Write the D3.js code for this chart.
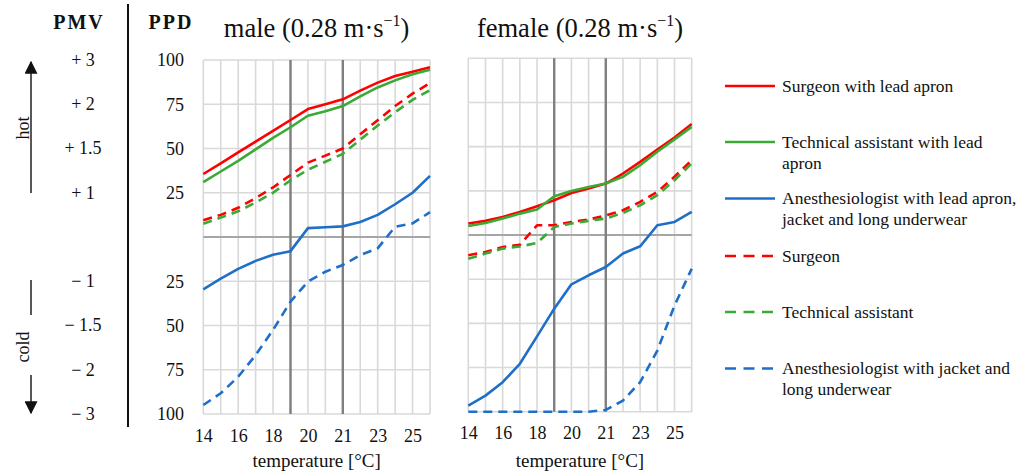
<!DOCTYPE html>
<html><head><meta charset="utf-8">
<script src="https://cdn.jsdelivr.net/npm/d3@7"></script>
<style>
html,body{margin:0;padding:0;background:#fff;}
svg{display:block;}
svg text{font-family:"Liberation Serif","Times New Roman",serif;}
</style></head>
<body><svg id="chart" width="1030" height="474"></svg>
<script>
// ---- data ----
const categories = ["14","15","16","17","18","19","20","20.5","21","22","23","24","25","26"];
const tickCategories = ["14","16","18","20","21","23","25"];
const comfortIndexes = [5,8];
const ppdTicks = [100,75,50,25,-25,-50,-75,-100];
const ppdLabels = ["100","75","50","25","25","50","75","100"];
const pmvLabels = ["+ 3","+ 2","+ 1.5","+ 1","\u2212 1","\u2212 1.5","\u2212 2","\u2212 3"];
const seriesNames = ["Surgeon with lead apron","Technical assistant with lead apron","Anesthesiologist with lead apron, jacket and long underwear","Surgeon","Technical assistant","Anesthesiologist with jacket and long underwear"];
// signed PPD: positive = hot side, negative = cold side
const maleSurgeonApron   = [35.6,41.6,47.8,53.9,59.9,66.1,72.3,75,77.8,82.7,87.2,91,93.4,95.9];
const maleTechApron      = [31,37,43,49.5,56,62,68.5,71,74,79.5,84.5,88.5,92,94.5];
const maleAnestApron     = [-29.6,-23.5,-18,-13.5,-10,-8,5,5.5,6,8.5,12.5,18.5,25,34.5];
const maleSurgeon        = [9.5,12.5,16.5,22,28,35,42,46,50,58,66,74,81,87];
const maleTech           = [7.5,11,14.5,19.5,25,32,38,42.5,47,55,63,70.5,77.5,83];
const maleAnest          = [-94.9,-88.3,-79,-66.7,-52.5,-36.5,-25.2,-19.6,-15.8,-10.2,-6.4,5.8,7.7,14];
const femaleSurgeonApron = [6.5,8,10.2,13,16.3,19.7,23.8,26.3,29.1,34.8,41.4,48.4,55.2,62.8];
const femaleTechApron    = [5.1,6.8,9.3,12.1,14.4,21.9,24.9,27.2,29.1,32.9,39.5,47.1,54.1,61.2];
const femaleAnestApron   = [-96.5,-90.9,-83.3,-72.9,-57.4,-41.7,-27.9,-22.8,-18.1,-10.5,-6.4,5.5,7.4,13.1];
const femaleSurgeon      = [-11.5,-9.6,-6.8,-5.6,5.5,5.5,7.4,8.7,11.1,14,18.7,24.4,33,42.3];
const femaleTech         = [-13.5,-10.5,-7.7,-6.5,-4.5,4.5,6.5,8,9.3,12.5,16.8,22.5,31,40.5];
const femaleAnest        = [-100,-100,-100,-100,-100,-100,-100,-100,-99,-93.7,-83.3,-65.4,-39.9,-19.1];

const colors = ["#ff0000","#3aaa35","#1f6fc8","#ff0000","#3aaa35","#1f6fc8"];
const dashed = [false,false,false,true,true,true];
const FONT = "Liberation Serif";

const svg = d3.select("#chart");
const panels = [
  {title:"male", x0:203.3, x1:430, yb:414, yt:60,
   series:[maleSurgeonApron,maleTechApron,maleAnestApron,maleSurgeon,maleTech,maleAnest]},
  {title:"female", x0:468.3, x1:691.7, yb:411.7, yt:58.3,
   series:[femaleSurgeonApron,femaleTechApron,femaleAnestApron,femaleSurgeon,femaleTech,femaleAnest]}
];

const gridTicks = d3.range(-100,101,25);
panels.forEach((p,pi)=>{
  const x = d3.scalePoint().domain(categories).range([p.x0,p.x1]);
  const y = d3.scaleLinear().domain([-100,100]).range([p.yb,p.yt]);
  p.x=x; p.y=y;
  const g = svg.append("g");
  g.selectAll("line.vg").data(categories).enter().append("line")
    .attr("x1",d=>x(d)).attr("x2",d=>x(d)).attr("y1",y(-100)).attr("y2",y(100))
    .attr("stroke","#d9d9d9").attr("stroke-width",1.6);
  g.selectAll("line.hg").data(gridTicks).enter().append("line")
    .attr("x1",p.x0).attr("x2",p.x1).attr("y1",d=>y(d)).attr("y2",d=>y(d))
    .attr("stroke",d=>d===0?"#a6a6a6":"#d9d9d9").attr("stroke-width",d=>d===0?2:1.6);
  g.selectAll("line.cr").data(comfortIndexes).enter().append("line")
    .attr("x1",i=>x(categories[i])).attr("x2",i=>x(categories[i])).attr("y1",y(-100)).attr("y2",y(100))
    .attr("stroke","#7f7f7f").attr("stroke-width",2.4);
  const line = d3.line().x((d,i)=>x(categories[i])).y(d=>y(d));
  p.series.forEach((s,si)=>{
    g.append("path").datum(s).attr("d",line).attr("fill","none")
      .attr("stroke",colors[si]).attr("stroke-width",2.6)
      .attr("stroke-linejoin","round")
      .attr("stroke-dasharray",dashed[si]?"9,6":null);
  });
  const ax = d3.axisBottom(x).tickValues(tickCategories).tickSize(0).tickPadding(0);
  const axg = g.append("g").attr("transform",`translate(0,${p.yb+15})`).call(ax);
  axg.attr("font-family",FONT);
  axg.select(".domain").remove();
  axg.selectAll("text").attr("font-family",FONT).attr("font-size",18).attr("fill","#111")
     .attr("dy","0.71em");
  g.append("text").attr("x",(p.x0+p.x1)/2).attr("y",467).attr("text-anchor","middle")
    .attr("font-family",FONT).attr("font-size",19).attr("fill","#111").text("temperature [\u00B0C]");
  const t = g.append("text").attr("x",(p.x0+p.x1)/2).attr("y",37).attr("text-anchor","middle")
    .attr("font-family",FONT).attr("font-size",26.5).attr("fill","#111");
  t.append("tspan").text(p.title+" (0.28 m\u00B7s");
  t.append("tspan").attr("font-size",16).attr("dy",-11).text("\u22121");
  t.append("tspan").attr("dy",11).text(")");
});

// PPD axis
const ym = panels[0].y;
const ppdAxis = d3.axisLeft(ym).tickValues(ppdTicks).tickSize(0).tickPadding(0)
  .tickFormat((d,i)=>ppdLabels[i]);
const pg = svg.append("g").attr("transform","translate(184,0)").call(ppdAxis);
pg.attr("font-family",FONT);
pg.select(".domain").remove();
pg.selectAll("text").attr("font-family",FONT).attr("font-size",18).attr("fill","#111");

// PMV labels
svg.append("g").selectAll("text").data(ppdTicks).enter().append("text")
  .attr("x",83).attr("y",d=>ym(d)).attr("dy","0.32em").attr("text-anchor","middle")
  .attr("font-family",FONT).attr("font-size",18).attr("fill","#111").text((d,i)=>pmvLabels[i]);

// headers
svg.append("text").attr("x",79).attr("y",29).attr("text-anchor","middle").attr("font-weight","bold")
  .attr("font-family",FONT).attr("font-size",20).attr("letter-spacing",2).attr("fill","#111").text("PMV");
svg.append("text").attr("x",171).attr("y",29).attr("text-anchor","middle").attr("font-weight","bold")
  .attr("font-family",FONT).attr("font-size",20).attr("letter-spacing",2).attr("fill","#111").text("PPD");
svg.append("line").attr("x1",128).attr("x2",128).attr("y1",4).attr("y2",427)
  .attr("stroke","#111").attr("stroke-width",2);

// hot / cold arrows
const defs = svg.append("defs");
defs.append("marker").attr("id","ah").attr("viewBox","0 0 10 10").attr("refX",9).attr("refY",5)
  .attr("markerWidth",13).attr("markerHeight",13).attr("orient","auto")
  .attr("markerUnits","userSpaceOnUse")
  .append("path").attr("d","M0,0 L10,5 L0,10 z").attr("fill","#111");
svg.append("line").attr("x1",31).attr("x2",31).attr("y1",193).attr("y2",62)
  .attr("stroke","#111").attr("stroke-width",1.4).attr("marker-end","url(#ah)");
svg.append("text").attr("transform","translate(29,128) rotate(-90)").attr("text-anchor","middle")
  .attr("font-family",FONT).attr("font-size",18).attr("fill","#111").text("hot");
svg.append("line").attr("x1",31).attr("x2",31).attr("y1",280).attr("y2",315)
  .attr("stroke","#111").attr("stroke-width",1.4);
svg.append("line").attr("x1",31).attr("x2",31).attr("y1",375).attr("y2",413)
  .attr("stroke","#111").attr("stroke-width",1.4).attr("marker-end","url(#ah)");
svg.append("text").attr("transform","translate(29,347) rotate(-90)").attr("text-anchor","middle")
  .attr("font-family",FONT).attr("font-size",18).attr("fill","#111").text("cold");

// legend
const legendLines = [
  ["Surgeon with lead apron"],
  ["Technical assistant with lead","apron"],
  ["Anesthesiologist with lead apron,","jacket and long underwear"],
  ["Surgeon"],
  ["Technical assistant"],
  ["Anesthesiologist with jacket and","long underwear"]
];
const legendY = [86,142,198.5,256,312,368.5];
const lg = svg.append("g");
seriesNames.forEach((n,i)=>{
  lg.append("line").attr("x1",725).attr("x2",775).attr("y1",legendY[i]).attr("y2",legendY[i])
    .attr("stroke",colors[i]).attr("stroke-width",2.6).attr("stroke-dasharray",dashed[i]?"11,7.5":null);
  const t = lg.append("text").attr("x",782).attr("y",legendY[i])
    .attr("font-family",FONT).attr("font-size",17.5).attr("fill","#111");
  legendLines[i].forEach((l,k)=>{
    t.append("tspan").attr("x",782).attr("dy",k===0?"0.32em":"21").text(l);
  });
});
</script></body></html>
